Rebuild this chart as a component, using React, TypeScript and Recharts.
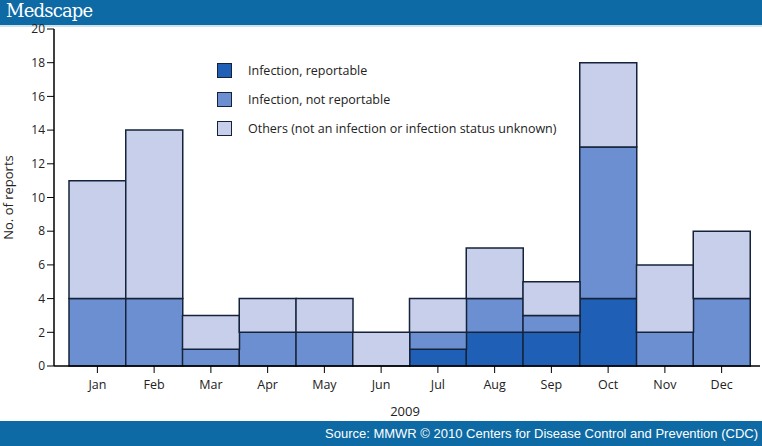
import React from "react";
import { BarChart, Bar, XAxis, YAxis, Label } from "recharts";

const months = ["Jan", "Feb", "Mar", "Apr", "May", "Jun", "Jul", "Aug", "Sep", "Oct", "Nov", "Dec"];
const reportable = [0, 0, 0, 0, 0, 0, 1, 2, 2, 4, 0, 0];
const notReportable = [4, 4, 1, 2, 2, 0, 1, 2, 1, 9, 2, 4];
const others = [7, 10, 2, 2, 2, 2, 2, 3, 2, 5, 4, 4];
const yTicks = [0, 2, 4, 6, 8, 10, 12, 14, 16, 18, 20];

const legendItems = [
  { name: "Infection, reportable", color: "#1f5fb5" },
  { name: "Infection, not reportable", color: "#6c8fd1" },
  { name: "Others (not an infection or infection status unknown)", color: "#c7cfea" },
];

const data = months.map((m, i) => ({
  month: m,
  reportable: reportable[i],
  notReportable: notReportable[i],
  others: others[i],
}));

const FONT = "'Open Sans', 'DejaVu Sans', sans-serif";
const STROKE = "#14233a";

export default function App() {
  return (
    <div style={{ position: "absolute", left: 0, top: 0, width: 762, height: 446, background: "#fff", overflow: "hidden" }}>
      <div style={{ position: "absolute", left: 0, top: 0, width: 762, height: 25, background: "#0d6aa4" }}>
        <span style={{ position: "absolute", left: 6, top: 0, color: "#fff", fontFamily: "'DejaVu Serif', serif", fontSize: 18, letterSpacing: -0.8 }}>Medscape</span>
      </div>
      <div style={{ position: "absolute", left: 0, top: 25, width: 762, height: 2, background: "#cfe3ef" }} />
      <BarChart
        width={762}
        height={446}
        data={data}
        barCategoryGap={0}
        margin={{ top: 29, right: 2, left: 14, bottom: 45 }}
        style={{ position: "absolute", left: 0, top: 0 }}
      >
        <XAxis
          xAxisId="top"
          orientation="top"
          dataKey="month"
          tick={false}
          tickLine={false}
          axisLine={{ stroke: "#000", strokeWidth: 1.5 }}
          height={0}
        />
        <YAxis
          yAxisId="right"
          orientation="right"
          tick={false}
          tickLine={false}
          axisLine={{ stroke: "#000", strokeWidth: 1.5 }}
          width={0}
          domain={[0, 20]}
        />
        <XAxis
          dataKey="month"
          padding={{ left: 15, right: 10 }}
          tickLine={{ stroke: "#000" }}
          tickSize={7}
          tickMargin={7}
          axisLine={{ stroke: "#000", strokeWidth: 1.5 }}
          tick={{ fill: "#222", fontSize: 12.5, fontFamily: FONT }}
          height={35}
        />
        <YAxis
          domain={[0, 20]}
          ticks={yTicks}
          interval={0}
          tickLine={{ stroke: "#000" }}
          tickSize={7}
          axisLine={{ stroke: "#000", strokeWidth: 1.5 }}
          tick={{ fill: "#222", fontSize: 12, fontFamily: FONT }}
          width={40}
        >
          <Label value="No. of reports" angle={-90} position="insideLeft" offset={-6} style={{ fill: "#222", fontSize: 13, fontFamily: FONT, textAnchor: "middle" }} />
        </YAxis>
        <Bar dataKey="reportable" stackId="a" fill={legendItems[0].color} stroke={STROKE} strokeWidth={1.5} isAnimationActive={false} />
        <Bar dataKey="notReportable" stackId="a" fill={legendItems[1].color} stroke={STROKE} strokeWidth={1.5} isAnimationActive={false} />
        <Bar dataKey="others" stackId="a" fill={legendItems[2].color} stroke={STROKE} strokeWidth={1.5} isAnimationActive={false} />
      </BarChart>
      <div style={{ position: "absolute", left: 380, top: 402, width: 50, textAlign: "center", fontFamily: FONT, fontSize: 13, color: "#222" }}>2009</div>
      <div style={{ position: "absolute", left: 217, top: 62 }}>
        {legendItems.map((it, i) => (
          <div key={it.name} style={{ position: "absolute", left: 0, top: i * 29, whiteSpace: "nowrap", display: "flex", alignItems: "center" }}>
            <div style={{ width: 15, height: 15, background: it.color, border: `1.5px solid ${STROKE}`, boxSizing: "border-box" }} />
            <span style={{ marginLeft: 16, fontFamily: FONT, fontSize: 12.5, color: "#222" }}>{it.name}</span>
          </div>
        ))}
      </div>
      <div style={{ position: "absolute", left: 0, top: 421, width: 762, height: 25, background: "#0d6aa4" }}>
        <span style={{ position: "absolute", right: 4, top: 5, color: "#fff", fontFamily: "'Liberation Sans', Arial, sans-serif", fontSize: 13 }}>
          Source: MMWR © 2010 Centers for Disease Control and Prevention (CDC)
        </span>
      </div>
    </div>
  );
}
